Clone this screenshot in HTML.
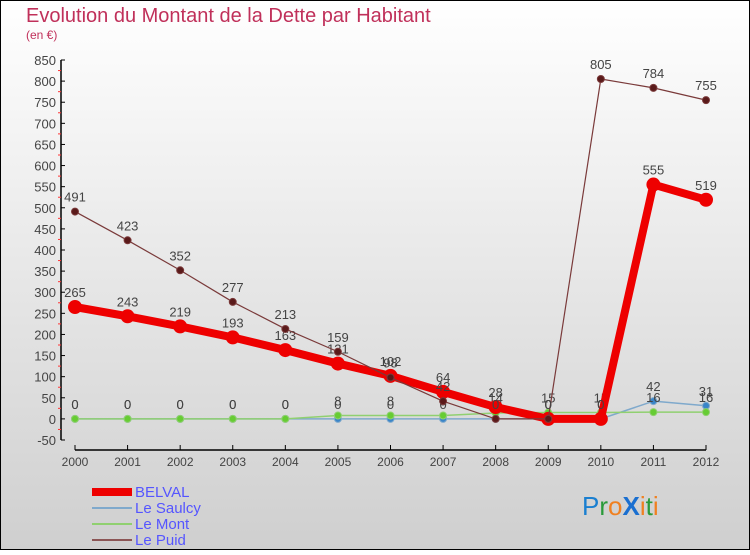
<!DOCTYPE html>
<html><head><meta charset="utf-8"><style>
body{margin:0;}
#c{width:750px;height:550px;position:relative;font-family:"Liberation Sans",sans-serif;}
</style></head><body>
<div id="c">
<svg id="s" width="750" height="550" xmlns="http://www.w3.org/2000/svg">
<defs><linearGradient id="bg" x1="0" y1="0" x2="0" y2="1"><stop offset="0" stop-color="#ffffff"/><stop offset="1" stop-color="#cfcfcf"/></linearGradient></defs>
<rect x="0.5" y="0.5" width="749" height="549" fill="url(#bg)" stroke="#000"/>
<text x="26" y="22" font-size="20" fill="#c0305a">Evolution du Montant de la Dette par Habitant</text>
<text x="26" y="39" font-size="12" fill="#c0305a">(en €)</text>
<g id="axes"></g><g id="series"></g>
<g>
<rect x="92" y="488" width="40" height="8" fill="#ee0000"/>
<text x="135" y="497" font-size="15" fill="#5555ff">BELVAL</text>
<rect x="92" y="507" width="40" height="2" fill="#7fa9cc"/>
<text x="135" y="513" font-size="15" fill="#5555ff">Le Saulcy</text>
<rect x="92" y="523" width="40" height="2" fill="#90d070"/>
<text x="135" y="529" font-size="15" fill="#5555ff">Le Mont</text>
<rect x="92" y="539" width="40" height="2" fill="#8b5555"/>
<text x="135" y="545" font-size="15" fill="#5555ff">Le Puid</text>
</g>
<g font-size="26" font-family="'Liberation Sans',sans-serif">
<text x="582" y="515"><tspan fill="#1a7fd0">P</tspan><tspan fill="#2a9a3a">r</tspan><tspan fill="#f08020">o</tspan><tspan fill="#1a6fd0" font-weight="bold">X</tspan><tspan fill="#f08020">i</tspan><tspan fill="#2a9a3a">t</tspan><tspan fill="#f08020">i</tspan></text>
</g>
</svg>
</div>
<script>
const years=["2000","2001","2002","2003","2004","2005","2006","2007","2008","2009","2010","2011","2012"];
const belval=[265,243,219,193,163,131,102,64,28,0,0,555,519];
const saulcy=[0,0,0,0,0,0,0,0,0,0,0,42,31];
const mont=[0,0,0,0,0,8,8,8,14,15,15,16,16];
const puid=[491,423,352,277,213,159,98,42,0,0,805,784,755];
const yTicks=[-50,0,50,100,150,200,250,300,350,400,450,500,550,600,650,700,750,800,850];
const NS="http://www.w3.org/2000/svg";
const X0=75,X1=706,YB=440,YT=60,VMIN=-50,VMAX=850;
const xs=i=>X0+(X1-X0)*i/(years.length-1);
const ys=v=>YB-(v-VMIN)*(YB-YT)/(VMAX-VMIN);
function mk(t,a,p){const e=document.createElementNS(NS,t);for(const k in a)e.setAttribute(k,a[k]);p.appendChild(e);return e;}
const ax=document.getElementById('axes'),sr=document.getElementById('series');
let l=mk('line',{x1:61,y1:YT,x2:61,y2:YB,stroke:'#000','stroke-width':1.5},ax);


yTicks.forEach((v,i)=>{
 const y=ys(v);
 mk('line',{x1:61,y1:y,x2:65,y2:y,stroke:'#000'},ax);
 if(i<yTicks.length-1){mk('line',{x1:58,y1:ys(v+25),x2:61,y2:ys(v+25),stroke:'#f33'},ax);}
 const t=mk('text',{x:56,y:y+5,'text-anchor':'end','font-size':13,fill:'#444'},ax);
 t.textContent=v;
 
 
});
l=mk('line',{x1:X0,y1:450,x2:X1,y2:450,stroke:'#000','stroke-width':1.5},ax);


years.forEach((yr,i)=>{
 const x=xs(i);
 mk('line',{x1:x,y1:445,x2:x,y2:450,stroke:'#000'},ax);
 const t=mk('text',{x:x,y:466,'text-anchor':'middle','font-size':12,fill:'#444'},ax);
 t.textContent=yr;
 
 
});
function series(name,data,color,w,r,dot){
 const g=mk('g',{},sr);
 
 
 const p=mk('polyline',{points:data.map((v,i)=>xs(i)+','+ys(v)).join(' '),fill:'none',stroke:color,'stroke-width':w,'stroke-linejoin':'round'},g);
 
 
 data.forEach((v,i)=>{
  const c=mk('circle',{cx:xs(i),cy:ys(v),r:r,fill:dot,stroke:color,'stroke-width':1},g);
  
  
  const t=mk('text',{x:xs(i),y:ys(v)-10,'text-anchor':'middle','font-size':13,fill:'#444'},g);
  t.textContent=v;
  
  
 });
}
series('le-saulcy',saulcy,'#7fa9cc',1.5,3.5,'#3a85c8');
series('le-mont',mont,'#90d070',1.5,3.5,'#66cc33');
series('belval',belval,'#ee0000',8,6.5,'#ee0000');
series('le-puid',puid,'#7a3a3a',1.2,3.5,'#5a1a1a');
</script>
</body></html>
